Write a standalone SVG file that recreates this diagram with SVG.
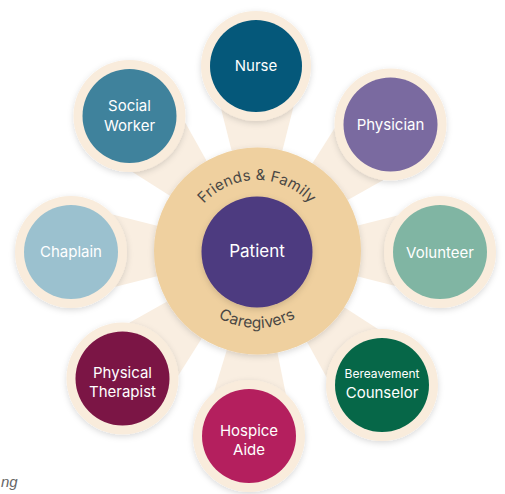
<svg xmlns="http://www.w3.org/2000/svg" xmlns:xlink="http://www.w3.org/1999/xlink" width="505" height="494" viewBox="0 0 505 494">
  <style>
    .halo { fill: #f9ecdc; }
    .ray { fill: #f9eee1; }
    .lbl { font-family: Inter, "Liberation Sans", sans-serif; fill: #ffffff; font-size: 15px; text-anchor: middle; }
    .arc { font-family: Inter, "Liberation Sans", sans-serif; fill: #4a4744; font-size: 15px; letter-spacing: 0.2px; }
    .note { font-family: "Liberation Sans", sans-serif; font-style: italic; fill: #666; font-size: 15px; }
  </style>
  <defs>
    <filter id="sh" x="-30%" y="-30%" width="160%" height="160%">
      <feDropShadow dx="0" dy="2" stdDeviation="3" flood-color="#000" flood-opacity="0.15"/>
    </filter>
    <polygon id="rayShape" points="0,0 186,-47 186,47"/>
    <path id="topArc" d="M 186,251 A 71,71 0 0 1 328,251"/>
    <path id="botArc" d="M 180,251 A 77,77 0 0 0 334,251"/>
  </defs>
  <rect width="505" height="494" fill="#ffffff"/>

  <g id="connectors" class="ray">
    <use xlink:href="#rayShape" transform="translate(257 251) rotate(-90)"/>
    <use xlink:href="#rayShape" transform="translate(257 251) rotate(-43.5)"/>
    <use xlink:href="#rayShape" transform="translate(257 251) rotate(0)"/>
    <use xlink:href="#rayShape" transform="translate(257 251) rotate(47)"/>
    <use xlink:href="#rayShape" transform="translate(257 251) rotate(92.8)"/>
    <use xlink:href="#rayShape" transform="translate(257 251) rotate(136.5)"/>
    <use xlink:href="#rayShape" transform="translate(257 251) rotate(180)"/>
    <use xlink:href="#rayShape" transform="translate(257 251) rotate(-133.4)"/>
  </g>

  <g id="nurse">
    <circle class="halo" cx="256" cy="66" r="55" filter="url(#sh)"/>
    <circle cx="256" cy="66" r="46" fill="#05587a"/>
    <text class="lbl" x="256" y="71">Nurse</text>
  </g>
  <g id="physician">
    <circle class="halo" cx="390.5" cy="124.5" r="56" filter="url(#sh)"/>
    <circle cx="390.5" cy="124.5" r="47" fill="#7a6aa0"/>
    <text class="lbl" x="390.5" y="130">Physician</text>
  </g>
  <g id="volunteer">
    <circle class="halo" cx="440" cy="252" r="56" filter="url(#sh)"/>
    <circle cx="440" cy="252" r="47" fill="#80b5a3"/>
    <text class="lbl" x="440" y="258">Volunteer</text>
  </g>
  <g id="bereavement-counselor">
    <circle class="halo" cx="382" cy="385" r="56" filter="url(#sh)"/>
    <circle cx="382" cy="385" r="47" fill="#066748"/>
    <text class="lbl" x="382" y="378" style="font-size:12px">Bereavement</text>
    <text class="lbl" x="382" y="398">Counselor</text>
  </g>
  <g id="hospice-aide">
    <circle class="halo" cx="249" cy="436" r="56" filter="url(#sh)"/>
    <circle cx="249" cy="436" r="47" fill="#b41f5e"/>
    <text class="lbl" x="249" y="436">Hospice</text>
    <text class="lbl" x="249" y="455">Aide</text>
  </g>
  <g id="physical-therapist">
    <circle class="halo" cx="122.5" cy="378.5" r="56" filter="url(#sh)"/>
    <circle cx="122.5" cy="378.5" r="47" fill="#7b1545"/>
    <text class="lbl" x="122.5" y="378">Physical</text>
    <text class="lbl" x="122.5" y="397">Therapist</text>
  </g>
  <g id="chaplain">
    <circle class="halo" cx="71" cy="252" r="56" filter="url(#sh)"/>
    <circle cx="71" cy="252" r="47" fill="#9bc1cf"/>
    <text class="lbl" x="71" y="257">Chaplain</text>
  </g>
  <g id="social-worker">
    <circle class="halo" cx="129.5" cy="116" r="56" filter="url(#sh)"/>
    <circle cx="129.5" cy="116" r="47" fill="#3f829c"/>
    <text class="lbl" x="129.5" y="111">Social</text>
    <text class="lbl" x="129.5" y="131">Worker</text>
  </g>

  <g id="friends-family-caregivers">
    <circle cx="257.5" cy="251" r="103.5" fill="#efd09f" filter="url(#sh)"/>
    <text class="arc"><textPath xlink:href="#topArc" startOffset="50%" text-anchor="middle">Friends &amp; Family</textPath></text>
    <text class="arc" style="font-size:15.5px"><textPath xlink:href="#botArc" startOffset="50%" text-anchor="middle">Caregivers</textPath></text>
  </g>
  <g id="patient">
    <circle cx="257" cy="252" r="55.5" fill="#4d3a80" filter="url(#sh)"/>
    <text class="lbl" x="257" y="257" style="font-size:17px">Patient</text>
  </g>

  <text class="note" x="1" y="487">ng</text>
</svg>
